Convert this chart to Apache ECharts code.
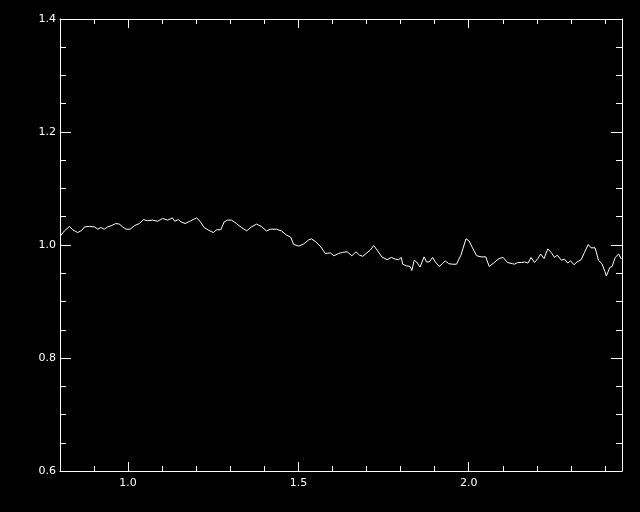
<!DOCTYPE html>
<html>
<head>
<meta charset="utf-8">
<script src="https://cdn.jsdelivr.net/npm/echarts@6/dist/echarts.min.js"></script>
<style>
html,body{margin:0;padding:0;background:#000;}
#c{width:640px;height:512px;}
</style>
</head>
<body>
<div id="c"></div>
<script>
var wavelength = [0.801,0.813,0.828,0.837,0.852,0.864,0.872,0.886,0.901,0.911,0.920,0.930,0.940,0.950,0.964,0.974,0.984,0.994,1.006,1.018,1.033,1.045,1.057,1.072,1.087,1.101,1.116,1.130,1.137,1.147,1.155,1.167,1.181,1.201,1.211,1.223,1.237,1.250,1.260,1.272,1.282,1.292,1.304,1.318,1.333,1.348,1.362,1.377,1.391,1.406,1.419,1.435,1.450,1.464,1.477,1.486,1.501,1.516,1.530,1.538,1.550,1.564,1.579,1.594,1.604,1.618,1.630,1.643,1.657,1.669,1.679,1.689,1.701,1.711,1.721,1.731,1.745,1.760,1.773,1.784,1.794,1.802,1.806,1.818,1.828,1.833,1.840,1.847,1.857,1.869,1.876,1.884,1.894,1.902,1.913,1.923,1.931,1.941,1.952,1.964,1.977,1.992,2.001,2.011,2.023,2.036,2.050,2.060,2.075,2.089,2.101,2.114,2.128,2.134,2.144,2.156,2.164,2.174,2.183,2.193,2.203,2.211,2.221,2.232,2.242,2.252,2.260,2.272,2.281,2.291,2.299,2.309,2.318,2.330,2.340,2.351,2.359,2.371,2.381,2.391,2.400,2.404,2.414,2.421,2.430,2.440,2.448];
var flux = [1.016,1.025,1.033,1.027,1.022,1.026,1.032,1.033,1.032,1.028,1.031,1.028,1.032,1.034,1.038,1.037,1.032,1.028,1.028,1.034,1.038,1.045,1.043,1.044,1.042,1.047,1.044,1.048,1.042,1.045,1.041,1.038,1.042,1.048,1.042,1.031,1.026,1.022,1.027,1.027,1.041,1.044,1.044,1.038,1.031,1.025,1.032,1.037,1.033,1.025,1.028,1.028,1.025,1.018,1.014,1.001,0.998,1.002,1.009,1.011,1.006,0.998,0.985,0.986,0.981,0.985,0.987,0.988,0.981,0.988,0.982,0.980,0.986,0.991,0.999,0.991,0.979,0.974,0.978,0.975,0.974,0.978,0.966,0.963,0.962,0.955,0.973,0.970,0.961,0.979,0.970,0.970,0.978,0.970,0.962,0.967,0.972,0.967,0.966,0.966,0.982,1.011,1.007,0.995,0.981,0.979,0.979,0.962,0.969,0.976,0.978,0.969,0.967,0.966,0.969,0.969,0.970,0.968,0.978,0.969,0.976,0.984,0.976,0.993,0.987,0.978,0.982,0.973,0.975,0.968,0.972,0.965,0.970,0.974,0.987,1.001,0.995,0.995,0.973,0.967,0.953,0.945,0.960,0.962,0.978,0.984,0.975];

var xMajor = [1.0, 1.5, 2.0];
var xMinor = [0.9, 1.1, 1.2, 1.3, 1.4, 1.6, 1.7, 1.8, 1.9, 2.1, 2.2, 2.3, 2.4];
var yMajor = [0.6, 0.8, 1.0, 1.2, 1.4];
var yMinor = [0.65, 0.7, 0.75, 0.85, 0.9, 0.95, 1.05, 1.1, 1.15, 1.25, 1.3, 1.35];

var X_MIN = 0.8, X_MAX = 2.45, Y_MIN = 0.6, Y_MAX = 1.4;

var points = wavelength.map(function (w, i) { return [w, flux[i]]; });

var fontFam = '"DejaVu Sans", sans-serif';
function axis(kind, pos, ticks, len, showLine, labels) {
  var a = {
    type: 'value', position: pos, min: kind === 'x' ? X_MIN : Y_MIN, max: kind === 'x' ? X_MAX : Y_MAX,
    splitLine: { show: false },
    axisLine: { show: showLine, onZero: false, lineStyle: { color: '#fff', width: 1 } },
    axisTick: { show: true, inside: true, length: len, customValues: ticks, lineStyle: { color: '#fff', width: 1 } },
    axisLabel: labels ? {
      show: true, customValues: labels, color: '#fff', fontSize: 11, fontFamily: fontFam,
      margin: kind === 'x' ? 7 : 4,
      formatter: function (v) { return v.toFixed(1); }
    } : { show: false }
  };
  return a;
}

var chart = echarts.init(document.getElementById('c'), null, { renderer: 'canvas' });
chart.setOption({
  backgroundColor: '#000',
  animation: false,
  grid: { left: 60, right: 18, top: 19, bottom: 41, containLabel: false },
  xAxis: [
    axis('x', 'bottom', xMajor, 9, true, xMajor),
    axis('x', 'bottom', xMinor, 5, false, null),
    axis('x', 'top', xMajor, 9, true, null),
    axis('x', 'top', xMinor, 5, false, null)
  ],
  yAxis: [
    axis('y', 'left', yMajor, 11, true, yMajor),
    axis('y', 'left', yMinor, 6, false, null),
    axis('y', 'right', yMajor, 11, true, null),
    axis('y', 'right', yMinor, 6, false, null)
  ],
  series: [{
    type: 'line', xAxisIndex: 0, yAxisIndex: 0, data: points,
    showSymbol: false, symbol: 'none', smooth: false,
    lineStyle: { color: '#fff', width: 1 }
  }]
});
</script>
</body>
</html>
